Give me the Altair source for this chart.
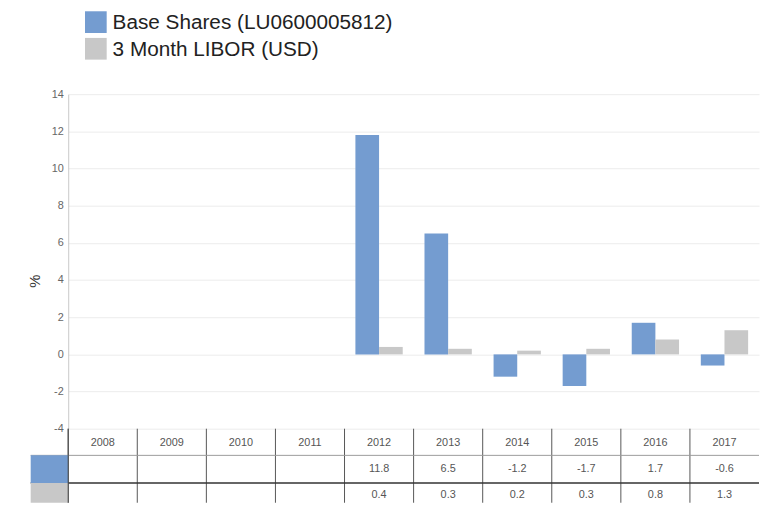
import altair as alt
import pandas as pd

years = ["2008", "2009", "2010", "2011", "2012", "2013", "2014", "2015", "2016", "2017"]
series = ["Base Shares (LU0600005812)", "3 Month LIBOR (USD)"]
base_values = [None, None, None, None, 11.8, 6.5, -1.2, -1.7, 1.7, -0.6]
libor_values = [None, None, None, None, 0.4, 0.3, 0.2, 0.3, 0.8, 1.3]
colors = ["#749CD0", "#C8C8C8"]
y_ticks = [-4, -2, 0, 2, 4, 6, 8, 10, 12, 14]

W = 700
H = 339

rows = []
for s, vals in zip(series, [base_values, libor_values]):
    for yr, v in zip(years, vals):
        if v is not None:
            rows.append({"year": yr, "series": s, "value": v})
bars_df = pd.DataFrame(rows)


def fmt(v):
    return "" if v is None else "%.1f" % v


table_df = pd.DataFrame({
    "year": years,
    "base": [fmt(v) for v in base_values],
    "libor": [fmt(v) for v in libor_values],
})
one = pd.DataFrame({"k": [0]})

x_scale = alt.Scale(domain=years, paddingInner=0, paddingOuter=0)
FONT = "Liberation Sans"

bars = alt.Chart(bars_df).mark_bar().encode(
    x=alt.X("year:N", scale=x_scale, axis=None),
    xOffset=alt.XOffset("series:N", scale=alt.Scale(domain=series, paddingInner=0, paddingOuter=0.46)),
    y=alt.Y("value:Q", scale=alt.Scale(domain=[-4, 14], nice=False, zero=False),
            axis=alt.Axis(values=y_ticks, title="%", grid=True, gridColor="#ececec",
                          domainColor="#c8c8c8", ticks=False, labelColor="#666666",
                          labelFontSize=11, labelFont=FONT, labelPadding=5,
                          labelExpr="datum.value + ''",
                          titleFont=FONT, titleFontSize=15, titleFontWeight="normal",
                          titleColor="#333333", titleX=-26, titleY=189)),
    color=alt.Color("series:N", scale=alt.Scale(domain=series, range=colors), legend=None),
)

# table: column separators
vlines = alt.Chart(table_df).mark_rule(color="#555555", strokeWidth=1).encode(
    x=alt.X("year:N", scale=x_scale, bandPosition=0, axis=None),
    y=alt.value(H),
    y2=alt.value(414),
)
hline1 = alt.Chart(one).mark_rule(color="#9a9a9a", strokeWidth=1).encode(
    x=alt.value(-38), x2=alt.value(W), y=alt.value(366)
)
hline2 = alt.Chart(one).mark_rule(color="#333333", strokeWidth=1.5).encode(
    x=alt.value(-38), x2=alt.value(W), y=alt.value(394)
)
cell_blue = alt.Chart(one).mark_rect(color=colors[0]).encode(
    x=alt.value(-38), x2=alt.value(0), y=alt.value(366), y2=alt.value(394)
)
cell_gray = alt.Chart(one).mark_rect(color=colors[1]).encode(
    x=alt.value(-38), x2=alt.value(0), y=alt.value(394), y2=alt.value(414)
)
year_text = alt.Chart(table_df).mark_text(font=FONT, fontSize=11, color="#555555", baseline="middle").encode(
    x=alt.X("year:N", scale=x_scale, bandPosition=0.5, axis=None),
    y=alt.value(353),
    text="year:N",
)
base_text = alt.Chart(table_df).mark_text(font=FONT, fontSize=11, color="#555555", baseline="middle").encode(
    x=alt.X("year:N", scale=x_scale, bandPosition=0.5, axis=None),
    y=alt.value(380),
    text="base:N",
)
libor_text = alt.Chart(table_df).mark_text(font=FONT, fontSize=11, color="#555555", baseline="middle").encode(
    x=alt.X("year:N", scale=x_scale, bandPosition=0.5, axis=None),
    y=alt.value(406),
    text="libor:N",
)
left_border = alt.Chart(one).mark_rule(color="#444444", strokeWidth=1).encode(
    x=alt.value(0), y=alt.value(H), y2=alt.value(414)
)

# legend
legend_layers = []
for i, (s, c) in enumerate(zip(series, colors)):
    top = -84 + i * 27
    legend_layers.append(alt.Chart(one).mark_rect(color=c).encode(
        x=alt.value(17), x2=alt.value(39), y=alt.value(top), y2=alt.value(top + 22)))
    legend_layers.append(alt.Chart(one).mark_text(font=FONT, fontSize=21, color="#222222",
                                                  align="left", baseline="middle").encode(
        x=alt.value(45), y=alt.value(top + 12), text=alt.value(s)))

chart = alt.layer(
    bars, vlines, hline1, hline2, cell_blue, cell_gray, left_border,
    year_text, base_text, libor_text, *legend_layers
).properties(
    width=W, height=H,
    padding={"left": 20, "top": 0, "right": 0, "bottom": 0},
).configure_view(stroke=None)

chart.save("out.html", embed_options={"renderer": "svg", "actions": False})
